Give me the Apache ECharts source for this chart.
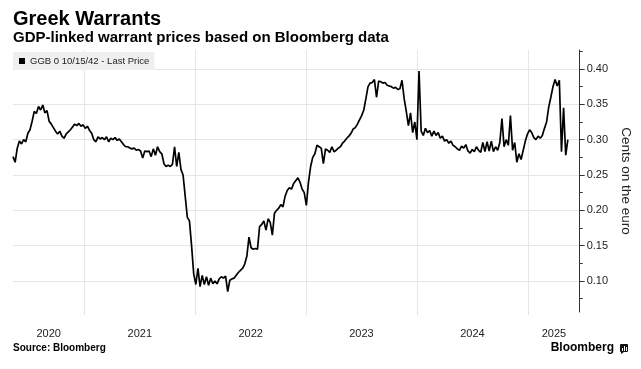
<!DOCTYPE html>
<html><head><meta charset="utf-8">
<script src="https://cdn.jsdelivr.net/npm/echarts@6/dist/echarts.min.js"></script>
<style>html,body{margin:0;padding:0;background:#fff}#c{width:641px;height:369px}</style>
</head><body><div id="c"></div>
<script>
// ---- data ----
const seriesName = 'GGB 0 10/15/42 - Last Price';
const firstWeek = '2020-05-11';          // first weekly observation
const axisStart = '2020-05-11';
const axisEnd = '2025-06-20';
const yearLabels = ['2020', '2021', '2022', '2023', '2024', '2025'];
const yearStarts = ['2021-01-01', '2022-01-01', '2023-01-01', '2024-01-01', '2025-01-01'];
const yTicks = [0.10, 0.15, 0.20, 0.25, 0.30, 0.35, 0.40];
const yMinorTicks = [0.075, 0.125, 0.175, 0.225, 0.275, 0.325, 0.375, 0.425];
const yMin = 0.0561, yMax = 0.4269;
// weekly last prices (cents on the euro)
const prices = [
  0.276,0.268,0.288,0.298,0.294,0.300,0.297,0.309,0.314,0.326,
  0.340,0.337,0.347,0.342,0.349,0.338,0.341,0.326,0.322,0.317,
  0.312,0.308,0.312,0.305,0.302,0.308,0.311,0.314,0.318,0.322,
  0.320,0.323,0.319,0.321,0.316,0.319,0.313,0.309,0.300,0.297,
  0.304,0.301,0.303,0.300,0.304,0.297,0.302,0.300,0.303,0.299,
  0.301,0.297,0.293,0.290,0.290,0.288,0.287,0.288,0.285,0.286,
  0.284,0.274,0.284,0.283,0.284,0.276,0.287,0.278,0.290,0.283,
  0.280,0.266,0.262,0.264,0.262,0.265,0.290,0.262,0.282,0.258,
  0.250,0.220,0.190,0.185,0.150,0.110,0.095,0.118,0.092,0.108,
  0.095,0.106,0.094,0.104,0.096,0.100,0.096,0.103,0.106,0.104,
  0.107,0.085,0.101,0.103,0.104,0.108,0.112,0.115,0.118,0.124,
  0.135,0.162,0.147,0.145,0.146,0.145,0.177,0.180,0.185,0.172,
  0.188,0.183,0.165,0.196,0.200,0.203,0.208,0.205,0.220,0.228,
  0.232,0.230,0.238,0.242,0.246,0.240,0.230,0.225,0.207,0.240,
  0.262,0.275,0.280,0.292,0.290,0.288,0.266,0.287,0.285,0.282,
  0.290,0.283,0.285,0.288,0.290,0.295,0.298,0.302,0.305,0.309,
  0.315,0.317,0.322,0.328,0.334,0.342,0.358,0.375,0.380,0.381,
  0.385,0.360,0.383,0.382,0.380,0.381,0.377,0.376,0.375,0.373,
  0.374,0.371,0.372,0.384,0.358,0.340,0.320,0.338,0.310,0.325,
  0.300,0.397,0.312,0.306,0.316,0.310,0.313,0.305,0.312,0.306,
  0.310,0.302,0.305,0.298,0.300,0.295,0.298,0.292,0.290,0.287,
  0.285,0.291,0.288,0.293,0.284,0.281,0.286,0.283,0.290,0.285,
  0.282,0.296,0.283,0.297,0.284,0.298,0.283,0.290,0.285,0.296,
  0.330,0.290,0.300,0.292,0.334,0.285,0.296,0.268,0.280,0.272,
  0.285,0.298,0.308,0.314,0.310,0.303,0.300,0.305,0.302,0.306,
  0.316,0.325,0.346,0.360,0.375,0.385,0.376,0.384,0.283,0.345,
  0.278,0.300
];

// ---- build ----
const WEEK = 7 * 86400000;
const t0 = Date.parse(firstWeek);
const seriesData = prices.map((v, i) => [t0 + i * WEEK, v]);
const xMin = Date.parse(axisStart), xMax = Date.parse(axisEnd);
const boundaries = yearStarts.map(d => Date.parse(d));
const edges = [xMin].concat(boundaries, [xMax]);
const labelPositions = yearLabels.map((y, i) => (edges[i] + edges[i + 1]) / 2);

const FONT = 'Liberation Sans';
const chart = echarts.init(document.getElementById('c'), null, {renderer: 'canvas'});
chart.setOption({
  animation: false,
  backgroundColor: '#ffffff',
  textStyle: {fontFamily: FONT},
  title: {
    text: 'Greek Warrants',
    subtext: 'GDP-linked warrant prices based on Bloomberg data',
    left: 13, top: 9, padding: 0, itemGap: 1,
    textStyle: {fontFamily: FONT, fontSize: 20, fontWeight: 'bold', color: '#000'},
    subtextStyle: {fontFamily: FONT, fontSize: 15, fontWeight: 'bold', color: '#000'}
  },
  legend: {
    data: [seriesName],
    left: 13, top: 52,
    padding: [4, 5, 4, 6],
    backgroundColor: '#efefef',
    icon: 'rect', itemWidth: 6, itemHeight: 6,
    textStyle: {fontFamily: FONT, fontSize: 9.5, color: '#222'},
    selectedMode: false
  },
  grid: {left: 13, right: 55, top: 50, bottom: 57, containLabel: false},
  xAxis: {
    type: 'value', min: xMin, max: xMax,
    axisLine: {show: false},
    axisTick: {show: true, customValues: boundaries, length: 3, lineStyle: {color: '#e3e3e3'}},
    splitLine: {show: true, lineStyle: {color: '#e6e6e6', width: 1}},
    axisLabel: {
      customValues: labelPositions, margin: 16,
      fontFamily: FONT, fontSize: 11, color: '#222',
      formatter: v => String(new Date(v).getUTCFullYear())
    }
  },
  yAxis: [{
    type: 'value', position: 'right', min: yMin, max: yMax,
    name: 'Cents on the euro', nameLocation: 'middle', nameRotate: -90, nameGap: 32,
    nameTextStyle: {fontFamily: FONT, fontSize: 13.5, color: '#222'},
    axisLine: {show: true, lineStyle: {color: '#333', width: 1}},
    axisTick: {show: true, customValues: yTicks, length: 5, lineStyle: {color: '#333'}},
    axisLabel: {customValues: yTicks, margin: 7, fontFamily: FONT, fontSize: 11, color: '#222',
      formatter: v => v.toFixed(2)},
    splitLine: {show: true, lineStyle: {color: '#e6e6e6', width: 1}}
  }, {
    type: 'value', position: 'right', min: yMin, max: yMax,
    axisLine: {show: false},
    axisTick: {show: true, customValues: yMinorTicks, length: 3, lineStyle: {color: '#333'}},
    axisLabel: {show: false},
    splitLine: {show: false}
  }],
  series: [{
    name: seriesName, type: 'line', data: seriesData, yAxisIndex: 0,
    showSymbol: false, symbol: 'none',
    lineStyle: {color: '#000', width: 1.7}, itemStyle: {color: '#000'}
  }],
  graphic: [
    {type: 'text', left: 13, top: 343, style: {text: 'Source: Bloomberg', fontFamily: FONT, fontSize: 10, fontWeight: 'bold', fill: '#000'}},
    {type: 'text', right: 27, top: 342, style: {text: 'Bloomberg', fontFamily: FONT, fontSize: 12, fontWeight: 'bold', fill: '#000'}},
    {type: 'group', left: 620, top: 344, children: [
      {type: 'rect', shape: {x: 0, y: 0, width: 8, height: 8, r: 1}, style: {fill: '#111'}},
      {type: 'polygon', shape: {points: [[1, 8], [4, 8], [1, 10]]}, style: {fill: '#111'}},
      {type: 'rect', shape: {x: 2, y: 4, width: 1, height: 3}, style: {fill: '#fff'}},
      {type: 'rect', shape: {x: 4, y: 2, width: 1, height: 5}, style: {fill: '#fff'}},
      {type: 'rect', shape: {x: 6, y: 3, width: 1, height: 4}, style: {fill: '#fff'}}
    ]}
  ]
});
</script>
</body></html>
